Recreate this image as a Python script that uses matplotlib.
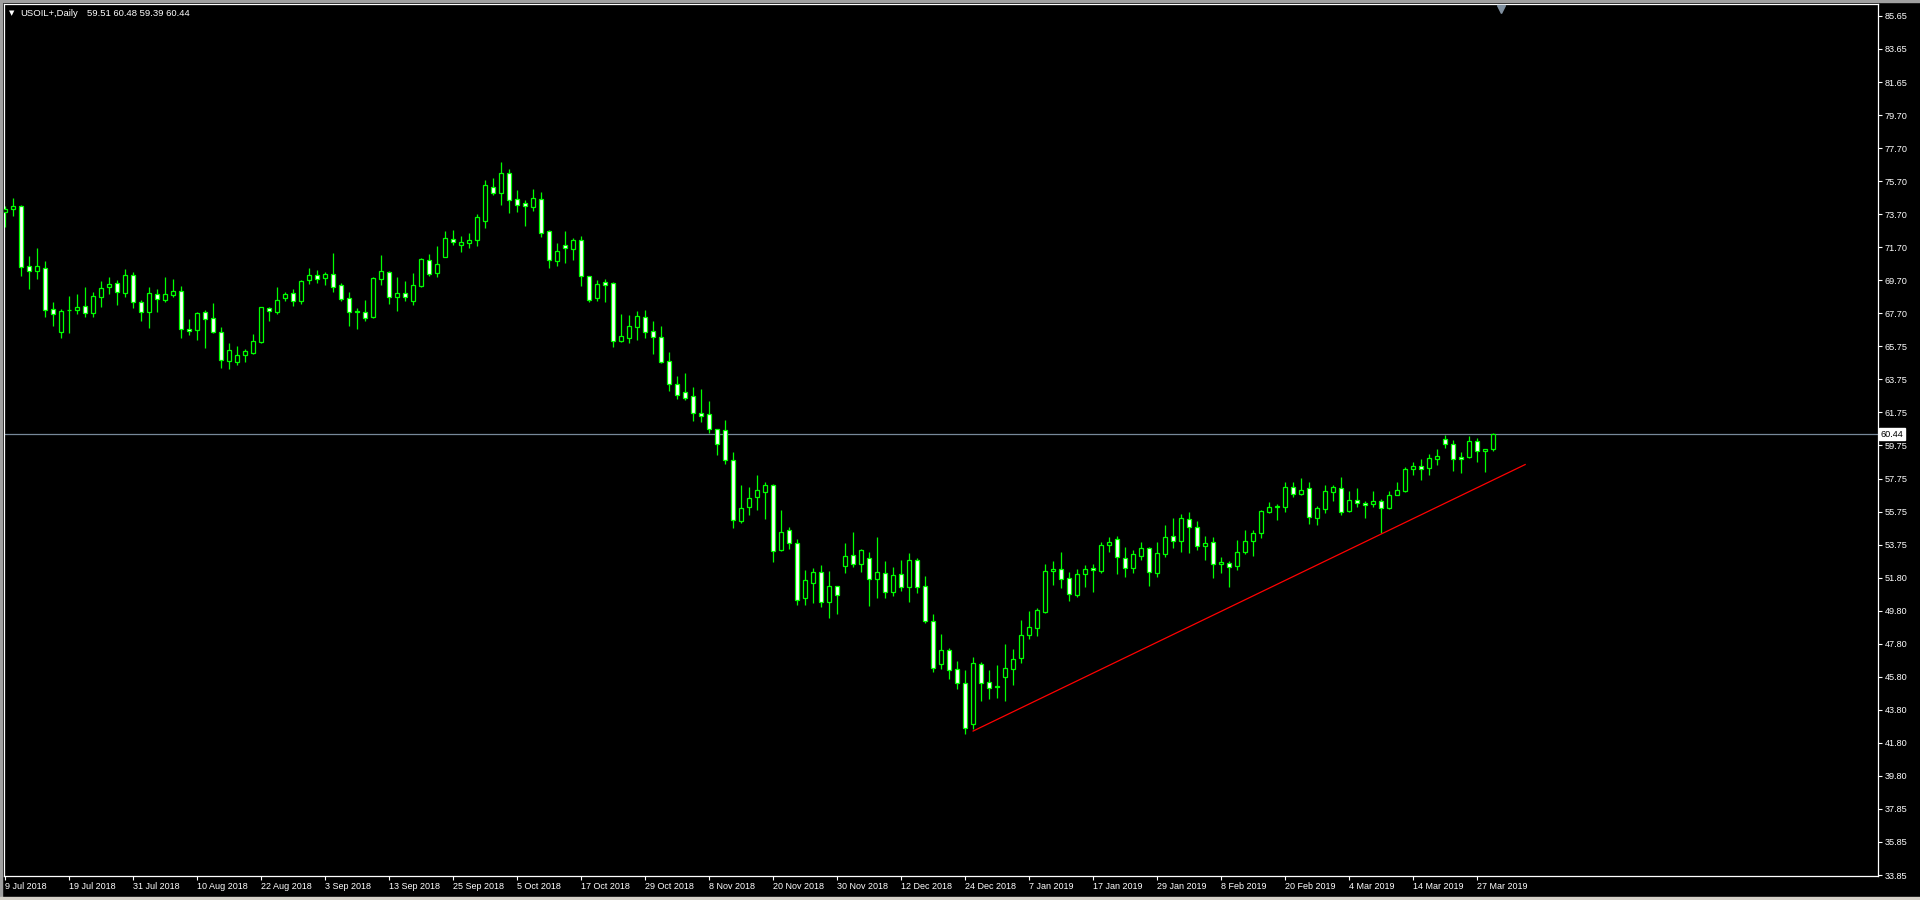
### USOIL+ daily candles, Jul 2018 - Mar 2019 (MT4 style, green on black)

import numpy as np
import matplotlib
matplotlib.use("Agg")
import matplotlib.pyplot as plt
import matplotlib.transforms as mtransforms
from matplotlib.patches import Rectangle

symbol = "USOIL+,Daily"

opens = [73.81, 73.99, 74.19, 70.56, 70.29, 70.43, 67.96, 66.62, 67.90, 67.94,
         68.14, 67.76, 68.73, 69.33, 69.53, 68.97, 70.01, 68.38, 67.82, 68.91,
         68.54, 68.85, 69.05, 66.76, 66.70, 67.78, 67.42, 66.58, 64.87, 64.81,
         65.19, 65.35, 65.99, 68.02, 67.82, 68.67, 68.93, 68.48, 69.71, 70.01,
         69.87, 70.07, 69.41, 68.63, 67.84, 67.78, 67.48, 69.81, 70.19, 68.73,
         68.97, 68.48, 69.39, 70.92, 70.17, 71.14, 72.18, 71.86, 71.98, 72.16,
         73.31, 75.32, 75.00, 76.16, 74.60, 74.35, 74.15, 74.60, 72.67, 70.90,
         71.82, 71.62, 72.12, 69.95, 68.67, 69.59, 69.53, 66.07, 66.25, 66.92,
         67.48, 66.64, 66.27, 64.83, 63.44, 62.96, 62.72, 61.69, 61.63, 60.72,
         60.66, 58.85, 55.21, 56.02, 56.62, 56.96, 57.34, 53.42, 54.63, 53.85,
         50.57, 51.48, 52.10, 50.29, 51.25, 52.46, 53.12, 52.58, 52.94, 51.72,
         52.04, 50.89, 51.98, 51.19, 52.82, 51.25, 49.14, 46.55, 47.39, 46.25,
         45.40, 42.93, 46.55, 45.46, 45.22, 45.81, 46.25, 46.91, 48.30, 48.72,
         49.71, 52.16, 52.28, 51.74, 50.75, 51.98, 52.34, 52.16, 53.73, 54.09,
         52.94, 52.38, 53.10, 53.55, 52.06, 53.22, 54.27, 54.01, 55.29, 54.81,
         53.71, 53.91, 52.58, 52.64, 52.46, 53.34, 53.97, 54.45, 55.76, 56.02,
         56.06, 57.22, 56.80, 57.16, 55.39, 55.94, 56.96, 57.16, 55.82, 56.44,
         56.26, 56.20, 56.39, 56.00, 56.79, 57.03, 58.32, 58.50, 58.42, 58.96,
         60.12, 59.84, 59.04, 59.08, 60.00, 59.40, 59.51]
highs = [74.19, 74.66, 74.25, 71.18, 71.66, 70.88, 68.38, 67.96, 68.77, 68.89,
         69.31, 69.01, 69.67, 69.91, 69.73, 70.39, 70.21, 68.52, 69.31, 69.19,
         69.93, 69.79, 69.37, 67.38, 67.80, 67.92, 68.36, 66.90, 65.91, 65.75,
         65.57, 66.47, 68.12, 68.12, 69.31, 68.99, 69.19, 69.73, 70.45, 70.33,
         70.19, 71.36, 69.53, 68.99, 68.02, 68.52, 69.93, 71.24, 70.27, 69.91,
         69.67, 70.15, 71.06, 71.30, 71.78, 72.69, 72.75, 72.38, 72.57, 73.71,
         75.76, 75.88, 76.85, 76.42, 75.16, 74.56, 75.22, 75.04, 72.75, 71.96,
         72.69, 72.26, 72.38, 69.95, 69.73, 69.79, 69.61, 67.68, 67.62, 67.86,
         67.92, 67.26, 66.96, 65.39, 63.92, 64.12, 63.28, 63.16, 62.43, 60.72,
         61.28, 59.33, 57.36, 57.22, 57.95, 57.54, 57.40, 55.84, 54.85, 54.09,
         52.22, 52.34, 52.52, 52.16, 51.25, 53.85, 54.51, 53.48, 53.30, 54.21,
         52.76, 52.40, 52.82, 53.24, 52.94, 51.86, 49.57, 48.36, 47.52, 46.73,
         46.19, 46.97, 46.67, 46.19, 46.49, 47.76, 47.46, 49.20, 49.77, 49.93,
         52.58, 52.76, 53.30, 52.10, 52.28, 52.54, 52.58, 53.91, 54.23, 54.27,
         53.61, 53.42, 53.91, 53.63, 53.91, 54.93, 55.35, 55.60, 55.72, 55.17,
         54.27, 54.23, 53.00, 52.76, 54.03, 54.63, 54.65, 55.86, 56.32, 56.20,
         57.57, 57.53, 57.77, 57.53, 56.10, 57.34, 57.34, 57.83, 57.00, 57.16,
         56.41, 57.01, 56.53, 57.01, 57.55, 58.46, 58.76, 58.94, 59.24, 59.54,
         60.41, 60.08, 59.36, 60.32, 60.20, 59.52, 60.48]
lows = [72.95, 73.61, 69.97, 69.21, 69.81, 67.52, 66.96, 66.25, 66.56, 67.70,
        67.52, 67.52, 68.12, 68.89, 68.22, 68.73, 68.06, 67.28, 66.86, 67.82,
        68.42, 68.73, 66.25, 66.41, 66.11, 65.65, 66.56, 64.44, 64.38, 64.63,
        64.81, 65.29, 65.95, 67.28, 67.70, 68.48, 68.18, 68.30, 69.51, 69.57,
        69.45, 69.03, 68.48, 66.98, 66.80, 67.28, 67.46, 69.43, 68.28, 67.88,
        68.48, 68.22, 69.31, 69.97, 69.91, 71.10, 71.84, 71.42, 71.66, 71.78,
        72.87, 74.86, 74.25, 73.77, 73.83, 72.99, 73.89, 72.32, 70.45, 70.58,
        70.76, 70.94, 69.37, 68.40, 68.46, 68.40, 65.69, 65.99, 65.93, 66.11,
        66.23, 65.27, 64.73, 63.04, 62.56, 62.50, 61.23, 61.17, 60.48, 59.17,
        58.65, 54.75, 55.09, 55.56, 55.86, 55.29, 52.74, 53.40, 53.52, 50.15,
        50.11, 50.27, 50.03, 49.36, 49.61, 52.04, 52.44, 52.14, 50.09, 50.57,
        50.57, 50.65, 50.95, 50.29, 50.83, 49.02, 46.11, 46.29, 45.69, 45.08,
        42.37, 42.63, 44.36, 44.44, 44.50, 44.36, 45.30, 46.65, 48.10, 48.28,
        49.67, 51.35, 51.17, 50.39, 50.63, 51.23, 50.93, 52.08, 53.30, 52.02,
        51.84, 52.08, 52.82, 51.29, 51.84, 53.02, 53.59, 53.34, 53.26, 53.42,
        52.84, 51.78, 52.08, 51.23, 52.24, 53.22, 53.08, 54.19, 55.68, 55.25,
        55.76, 56.62, 56.76, 55.03, 54.95, 55.70, 56.42, 55.54, 55.74, 56.06,
        55.38, 56.06, 54.45, 55.94, 56.75, 56.97, 57.97, 57.67, 57.97, 58.58,
        59.62, 58.24, 58.07, 59.00, 58.76, 58.17, 59.39]
closes = [73.99, 74.17, 70.54, 70.29, 70.56, 67.94, 67.66, 67.86, 67.94, 68.08,
          67.76, 68.77, 69.25, 69.47, 68.99, 70.01, 68.38, 67.78, 68.93, 68.61,
          68.89, 69.05, 66.76, 66.68, 67.72, 67.36, 66.62, 64.89, 65.49, 65.19,
          65.43, 66.03, 68.08, 67.84, 68.50, 68.87, 68.48, 69.65, 70.01, 69.81,
          70.07, 69.29, 68.61, 67.82, 67.82, 67.46, 69.83, 70.25, 68.73, 68.93,
          68.69, 69.41, 70.98, 70.11, 70.68, 72.24, 72.00, 72.00, 72.14, 73.51,
          75.44, 75.00, 76.16, 74.57, 74.23, 74.17, 74.66, 72.58, 70.96, 71.46,
          71.68, 72.12, 69.99, 68.52, 69.47, 69.45, 66.07, 66.33, 66.94, 67.54,
          66.62, 66.31, 64.79, 63.48, 62.82, 62.64, 61.73, 61.55, 60.72, 59.82,
          58.85, 55.23, 55.96, 56.56, 57.04, 57.34, 53.36, 54.55, 53.85, 50.41,
          51.62, 52.10, 50.29, 51.25, 50.71, 53.06, 52.58, 53.42, 51.68, 52.10,
          50.89, 51.92, 51.19, 52.82, 51.19, 49.14, 46.31, 47.39, 46.19, 45.40,
          42.69, 46.61, 45.40, 45.10, 45.16, 46.31, 46.85, 48.30, 48.78, 49.81,
          52.16, 52.28, 51.68, 50.77, 51.98, 52.28, 52.22, 53.73, 53.91, 53.00,
          52.34, 53.18, 53.55, 52.10, 53.24, 54.21, 53.97, 55.35, 54.81, 53.71,
          53.85, 52.58, 52.70, 52.40, 53.30, 53.97, 54.45, 55.78, 56.02, 56.08,
          57.22, 56.80, 57.06, 55.41, 55.96, 56.98, 57.22, 55.72, 56.44, 56.26,
          56.14, 56.41, 56.00, 56.75, 57.05, 58.32, 58.50, 58.36, 59.00, 59.12,
          59.86, 58.92, 58.96, 60.00, 59.40, 59.52, 60.44]

date_labels = ["9 Jul 2018", "19 Jul 2018", "31 Jul 2018", "10 Aug 2018", "22 Aug 2018",
               "3 Sep 2018", "13 Sep 2018", "25 Sep 2018", "5 Oct 2018", "17 Oct 2018",
               "29 Oct 2018", "8 Nov 2018", "20 Nov 2018", "30 Nov 2018", "12 Dec 2018",
               "24 Dec 2018", "7 Jan 2019", "17 Jan 2019", "29 Jan 2019", "8 Feb 2019",
               "20 Feb 2019", "4 Mar 2019", "14 Mar 2019", "27 Mar 2019"]
bars_per_date_label = 8

price_labels = ["33.85", "35.85", "37.85", "39.80", "41.80", "43.80", "45.80", "47.80",
                "49.80", "51.80", "53.75", "55.75", "57.75", "59.75", "61.75", "63.75",
                "65.75", "67.70", "69.70", "71.70", "73.70", "75.70", "77.70", "79.70",
                "81.65", "83.65", "85.65"]

trend_x = [121, 190]   # red trendline, bar index
trend_y = [42.53, 58.6]
shift_bar = 187        # chart shift marker

plt.rcParams["font.family"] = ["Liberation Sans", "DejaVu Sans"]

green = "#00ff00"
fig = plt.figure(figsize=(19.2, 9), dpi=100, facecolor="black")
ax = fig.add_axes([4 / 1920, 24 / 900, 1874 / 1920, 872 / 900], facecolor="black")

x = np.arange(len(opens))
o = np.array(opens)
c = np.array(closes)
bull = c >= o

ax.axhline(closes[-1], color="#778899", linewidth=0.9, zorder=1)  # bid line
ax.vlines(x, lows, highs, color=green, linewidth=0.9, zorder=2)
ax.bar(x, np.abs(c - o), bottom=np.minimum(o, c), width=0.5,
       color=np.where(bull, "black", "white"), edgecolor=green, linewidth=0.9, zorder=3)
ax.plot(trend_x, trend_y, color="#ff0000", linewidth=0.9, zorder=4)

ax.set_xlim(-0.125, 234.1)
ax.set_ylim(33.79, 86.37)

# price scale on the right
ax.yaxis.tick_right()
ax.set_yticks(np.linspace(33.85, 85.65, len(price_labels)))
ax.set_yticklabels(price_labels)
ax.tick_params(axis="y", colors="white", labelsize=6.6, length=3, width=0.8, pad=2)

# date scale
ax.set_xticks(x[::bars_per_date_label][:len(date_labels)])
ax.set_xticklabels(date_labels)
for lbl in ax.get_xticklabels():
    lbl.set_horizontalalignment("left")
ax.tick_params(axis="x", colors="white", labelsize=6.5, length=3, width=0.8, pad=1)

for s in ax.spines.values():
    s.set_color("white")
    s.set_linewidth(0.9)

trans = mtransforms.blended_transform_factory(ax.transAxes, ax.transData)
ax.text(1.0015, closes[-1], f"{closes[-1]:.2f}", transform=trans, color="black", fontsize=6.6,
        va="center", ha="left", bbox=dict(boxstyle="square,pad=0.15", fc="white", ec="white"))

trans2 = mtransforms.blended_transform_factory(ax.transData, ax.transAxes)
ax.plot([shift_bar], [0.994], marker="v", color="#8090a0", markersize=6, transform=trans2,
        clip_on=False, zorder=5)

# header
fig.text(9 / 1920, 1 - 13 / 900, "\u25bc", color="white", fontsize=5, va="center",
         family="DejaVu Sans")
fig.text(20 / 1920, 1 - 13 / 900, symbol, color="white", fontsize=6.8, va="center")
fig.text(87 / 1920, 1 - 13 / 900,
         f"{opens[-1]:.2f} {highs[-1]:.2f} {lows[-1]:.2f} {closes[-1]:.2f}",
         color="white", fontsize=6.8, va="center")

# window border
fig.patches.append(Rectangle((0, 1 - 2 / 900), 1, 2 / 900, transform=fig.transFigure,
                             color="#a0a0a0", zorder=0))
fig.patches.append(Rectangle((0, 0), 2 / 1920, 1, transform=fig.transFigure,
                             color="#a0a0a0", zorder=0))
fig.patches.append(Rectangle((0, 0), 1, 3 / 900, transform=fig.transFigure,
                             color="#d4d0c8", zorder=0))

fig.savefig("out.png", dpi=100, facecolor="black")
